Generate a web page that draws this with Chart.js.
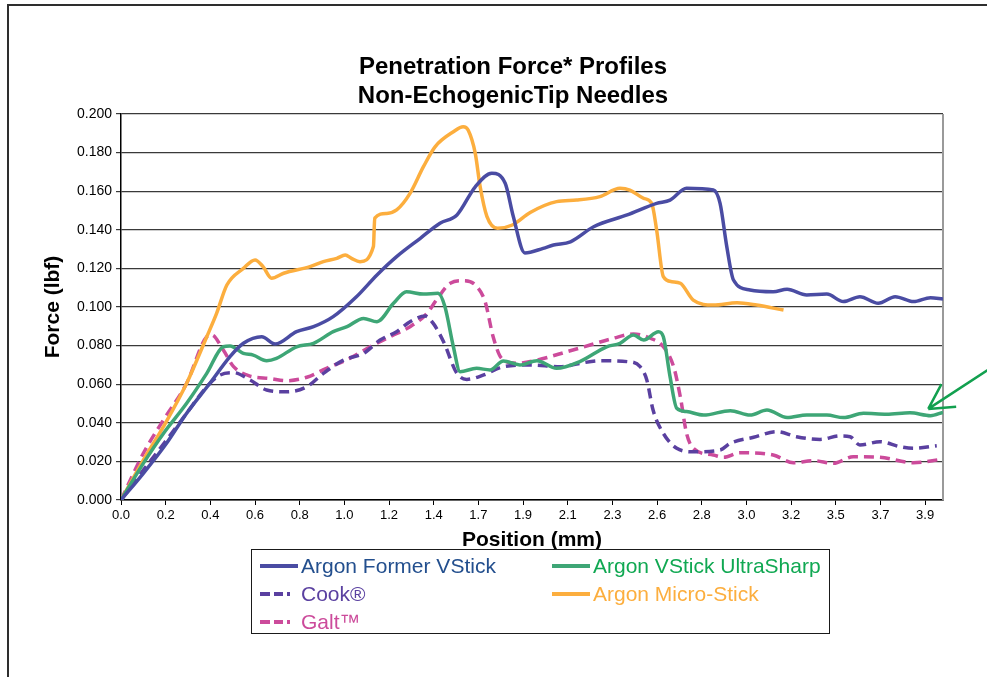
<!DOCTYPE html>
<html>
<head>
<meta charset="utf-8">
<script src="https://cdn.jsdelivr.net/npm/chart.js@4.4.1/dist/chart.umd.min.js"></script>
<style>
    html, body { margin: 0; padding: 0; background: #fff; }
    body { width: 987px; height: 677px; position: relative; overflow: hidden; font-family: 'Liberation Sans', Arial, sans-serif; }
    #frame { position: absolute; left: 7px; top: 4px; width: 1000px; height: 700px; border-left: 2px solid #2e2e2e; border-top: 2px solid #2e2e2e; }
    #forceChart { position: absolute; left: 0; top: 0; }
    #title {
        position: absolute; left: 313px; width: 400px; top: 51px; text-align: center;
        font-size: 24px; font-weight: bold; line-height: 29px; color: #000;
    }
    #legend {
        position: absolute; left: 251px; top: 549px; width: 579px; height: 85px;
        box-sizing: border-box; border: 1.5px solid #1a1a1a; padding: 2px 0 0 7px;
        display: grid; grid-template-columns: 292px 1fr; grid-auto-rows: 28px;
    }
    #legend .item { display: flex; align-items: center; font-size: 21px; white-space: nowrap; }
    #legend svg { margin-right: 2px; }
</style>
</head>
<body>
<div id="frame"></div>
<canvas id="forceChart" width="987" height="677"></canvas>
<div id="title">Penetration Force* Profiles<br>Non-EchogenicTip Needles</div>
<div id="legend"></div>
<script>
// x axis labels (category slots, evenly spaced)
const tickLabels = ['0.0', '0.2', '0.4', '0.6', '0.8', '1.0', '1.2', '1.4', '1.7', '1.9',
    '2.1', '2.3', '2.6', '2.8', '3.0', '3.2', '3.5', '3.7', '3.9'];
const yTicks = { min: 0, max: 0.2, step: 0.02 };

// positions are in label slots along the x axis (0 = "0.0", 18 = "3.9")
const formerPos = [0, 0.50, 1.02, 1.47, 1.99, 2.44, 2.74, 3.15, 3.45, 3.93, 4.31, 4.75, 5.27, 5.73, 6.17, 6.70, 7.14, 7.52,
    7.93, 8.30, 8.60, 8.78, 9.04, 9.45, 9.68, 10.06, 10.58, 11.33, 11.99, 12.29, 12.66, 13.26, 13.41, 13.56, 13.71, 14.08,
    14.60, 14.91, 15.35, 15.80, 16.17, 16.54, 16.95, 17.33, 17.74, 18.12, 18.40];
const formerForce = [0, 0.0138, 0.0294, 0.045, 0.0605, 0.0743, 0.0812, 0.0846, 0.0808, 0.0872, 0.0898, 0.095, 0.1053, 0.1166,
    0.1261, 0.1356, 0.1434, 0.1477, 0.1623, 0.1693, 0.1641, 0.147, 0.128, 0.1304, 0.1321, 0.1338, 0.1416, 0.1477, 0.1537,
    0.1554, 0.1615, 0.1606, 0.1537, 0.1313, 0.114, 0.1088, 0.1079, 0.1092, 0.1062, 0.1067, 0.1028, 0.1053, 0.1019, 0.1053,
    0.1028, 0.1048, 0.1041];

const ultraPos = [0, 0.50, 0.95, 1.47, 1.92, 2.29, 2.44, 2.74, 2.96, 3.26, 3.48, 3.93, 4.31, 4.75, 5.06, 5.43, 5.73, 6.10,
    6.39, 6.77, 7.10, 7.25, 7.44, 7.59, 7.96, 8.26, 8.56, 8.93, 9.31, 9.75, 10.27, 10.87, 11.17, 11.47, 11.70, 12.03, 12.14,
    12.29, 12.44, 12.66, 13.04, 13.64, 14.08, 14.46, 14.91, 15.35, 15.80, 16.17, 16.62, 17.14, 17.66, 18.12, 18.40];
const ultraForce = [0, 0.019, 0.0345, 0.0501, 0.0656, 0.0794, 0.0798, 0.076, 0.0751, 0.0722, 0.0734, 0.0794, 0.0812, 0.0872,
    0.0898, 0.0941, 0.0924, 0.1019, 0.1079, 0.1067, 0.1071, 0.1002, 0.0794, 0.0665, 0.0682, 0.0674, 0.072, 0.070, 0.0722,
    0.0682, 0.0717, 0.0794, 0.0812, 0.0855, 0.0829, 0.0872, 0.0846, 0.0639, 0.0475, 0.0458, 0.044, 0.0463, 0.044, 0.0466,
    0.0427, 0.044, 0.044, 0.0427, 0.0449, 0.0444, 0.0452, 0.0437, 0.0454];

const cookPos = [0, 0.50, 1.02, 1.47, 1.92, 2.22, 2.52, 2.89, 3.26, 3.71, 4.16, 4.53, 4.98, 5.43, 5.80, 6.17, 6.47, 6.81,
    6.99, 7.22, 7.52, 7.74, 8.12, 8.56, 9.16, 9.83, 10.27, 10.72, 11.33, 11.62, 11.77, 11.91, 12.14, 12.44, 12.81, 13.41,
    13.64, 14.16, 14.68, 15.12, 15.65, 16.10, 16.32, 16.54, 16.99, 17.44, 17.74, 18.26];
const cookForce = [0, 0.0155, 0.0311, 0.045, 0.0587, 0.0648, 0.066, 0.0622, 0.057, 0.0561, 0.0587, 0.0656, 0.0725, 0.076,
    0.0829, 0.0872, 0.0924, 0.0953, 0.0915, 0.082, 0.0656, 0.0625, 0.0648, 0.0691, 0.070, 0.0691, 0.0708, 0.0722, 0.0717,
    0.0691, 0.0622, 0.0466, 0.0345, 0.0268, 0.025, 0.0259, 0.0294, 0.0325, 0.0354, 0.0328, 0.0314, 0.0332, 0.0328, 0.0285,
    0.0302, 0.0276, 0.0268, 0.0281];

const microPos = [0, 0.50, 0.95, 1.47, 1.92, 2.14, 2.37, 2.74, 3.00, 3.18, 3.37, 3.64, 4.23, 4.53, 4.83, 5.02, 5.16, 5.35,
    5.65, 5.68, 5.95, 6.17, 6.47, 6.77, 7.03, 7.44, 7.66, 7.77, 7.93, 8.04, 8.19, 8.43, 8.76, 9.16, 9.75, 10.20, 10.72,
    11.17, 11.39, 11.70, 11.88, 11.99, 12.14, 12.33, 12.52, 12.81, 13.26, 13.79, 14.23, 14.83];
const microForce = [0, 0.0207, 0.038, 0.0605, 0.0846, 0.0967, 0.1114, 0.12, 0.1244, 0.1209, 0.1149, 0.1175, 0.1209, 0.1235,
    0.1252, 0.1269, 0.1252, 0.1235, 0.1313, 0.146, 0.1485, 0.1503, 0.1589, 0.1727, 0.183, 0.1908, 0.1934, 0.1917, 0.1796,
    0.1623, 0.147, 0.1408, 0.1425, 0.149, 0.1546, 0.1554, 0.1572, 0.1615, 0.1606, 0.1563, 0.1537, 0.1399, 0.1157, 0.1131,
    0.1123, 0.1036, 0.101, 0.1022, 0.101, 0.0984];

const galtPos = [0, 0.50, 0.95, 1.47, 1.92, 2.03, 2.29, 2.52, 2.89, 3.33, 3.71, 4.16, 4.60, 5.12, 5.58, 6.02, 6.47, 6.85,
    7.06, 7.37, 7.66, 7.93, 8.15, 8.33, 8.52, 8.86, 9.31, 9.98, 10.50, 11.02, 11.47, 11.85, 12.14, 12.37, 12.52, 12.66,
    12.81, 13.26, 13.49, 13.85, 14.60, 15.05, 15.50, 15.95, 16.39, 16.99, 17.74, 18.37];
const galtForce = [0, 0.0242, 0.0415, 0.0605, 0.0846, 0.0855, 0.0777, 0.0691, 0.0642, 0.063, 0.0618, 0.0636, 0.0682, 0.0734,
    0.0794, 0.0846, 0.0898, 0.0967, 0.1036, 0.1123, 0.1136, 0.1114, 0.1028, 0.0846, 0.0734, 0.0708, 0.0725, 0.0768, 0.0803,
    0.0838, 0.086, 0.0838, 0.0794, 0.0691, 0.0535, 0.0345, 0.0268, 0.0233, 0.0221, 0.0245, 0.0233, 0.0193, 0.0204, 0.019,
    0.0224, 0.0221, 0.0193, 0.0211];

const SERIES = [
    { label: 'Argon Former VStick', pos: formerPos, force: formerForce, color: '#4a4ca3', text: '#234f8e', dash: [] },
    { label: 'Argon VStick UltraSharp', pos: ultraPos, force: ultraForce, color: '#3ea676', text: '#10a852', dash: [] },
    { label: 'Cook®', pos: cookPos, force: cookForce, color: '#5a40a0', text: '#5a40a0', dash: [10, 6] },
    { label: 'Argon Micro-Stick', pos: microPos, force: microForce, color: '#fcae3e', text: '#fcae3e', dash: [] },
    { label: 'Galt™', pos: galtPos, force: galtForce, color: '#cc4b9b', text: '#cc4b9b', dash: [10, 6] }
];

Chart.defaults.font.family = "'Liberation Sans', Arial, sans-serif";
Chart.defaults.color = '#000';

// right border of the plot + green arrow pointing at the UltraSharp line
const plotExtras = {
    id: 'plotExtras',
    beforeDatasetsDraw(chart) {
        const { ctx, chartArea } = chart;
        ctx.save();
        ctx.strokeStyle = '#9a9a9a';
        ctx.lineWidth = 2;
        ctx.beginPath();
        ctx.moveTo(chartArea.right, chartArea.top);
        ctx.lineTo(chartArea.right, chartArea.bottom);
        ctx.stroke();
        ctx.restore();
    },
    afterDatasetsDraw(chart) {
        const { ctx } = chart;
        const tipX = chart.scales.x.getPixelForValue(18.07);
        const tipY = chart.scales.y.getPixelForValue(0.0472);
        const ang = Math.atan2(-0.55, 0.84);
        ctx.save();
        ctx.strokeStyle = '#12a04f';
        ctx.lineWidth = 2.5;
        ctx.beginPath();
        ctx.moveTo(tipX, tipY);
        ctx.lineTo(tipX + Math.cos(ang) * 120, tipY + Math.sin(ang) * 120);
        [-0.5, 0.5].forEach(d => {
            ctx.moveTo(tipX, tipY);
            ctx.lineTo(tipX + Math.cos(ang + d) * 28, tipY + Math.sin(ang + d) * 28);
        });
        ctx.stroke();
        ctx.restore();
    }
};

const ctx = document.getElementById('forceChart').getContext('2d');
const chart = new Chart(ctx, {
    type: 'line',
    data: {
        datasets: SERIES.map(s => ({
            label: s.label,
            data: s.pos.map((x, i) => ({ x: x, y: s.force[i] })),
            borderColor: s.color,
            borderWidth: 3.5,
            borderDash: s.dash,
            pointRadius: 0,
            fill: false,
            cubicInterpolationMode: 'monotone'
        }))
    },
    options: {
        responsive: false,
        animation: false,
        layout: { padding: { left: 37, right: 44, top: 114, bottom: 122 } },
        plugins: {
            legend: { display: false },
            tooltip: { enabled: false },
            title: { display: false }
        },
        scales: {
            x: {
                type: 'linear',
                min: 0,
                max: 18.40,
                afterBuildTicks: scale => { scale.ticks = tickLabels.map((_, i) => ({ value: i })); },
                afterFit: scale => { scale.height = 55; },
                ticks: { autoSkip: false, maxRotation: 0, font: { size: 13 }, padding: 3,
                    callback: v => tickLabels[v] },
                grid: { drawOnChartArea: false, tickLength: 5, color: '#000' },
                border: { color: '#000', width: 1.5 },
                title: { display: true, text: 'Position (mm)', font: { size: 21, weight: 'bold' }, padding: { top: 2, bottom: 2 } }
            },
            y: {
                min: yTicks.min,
                max: yTicks.max,
                afterFit: scale => { scale.width = 121 - 37; },
                ticks: { stepSize: yTicks.step, font: { size: 14 }, padding: 4,
                    callback: v => v.toFixed(3) },
                grid: { color: '#3a3a3a', tickLength: 5, lineWidth: 1.2 },
                border: { color: '#000', width: 1.5 },
                title: { display: true, text: 'Force (lbf)', font: { size: 21, weight: 'bold' }, padding: { top: 4, bottom: 4 } }
            }
        }
    },
    plugins: [plotExtras]
});

// legend: two columns, built from the chart datasets
const legendEl = document.getElementById('legend');
chart.data.datasets.forEach((ds, i) => {
    const item = document.createElement('div');
    item.className = 'item';
    const dashed = ds.borderDash.length > 0;
    const sample = dashed
        ? '<line x1="1" y1="4" x2="38" y2="4" stroke="' + ds.borderColor + '" stroke-width="4" stroke-dasharray="10 4 9 4 3 20"/>'
        : '<line x1="1" y1="4" x2="39" y2="4" stroke="' + ds.borderColor + '" stroke-width="4"/>';
    item.innerHTML = '<svg width="40" height="8">' + sample + '</svg><span style="color:' + SERIES[i].text + '">' + ds.label + '</span>';
    legendEl.appendChild(item);
});
</script>
</body>
</html>
